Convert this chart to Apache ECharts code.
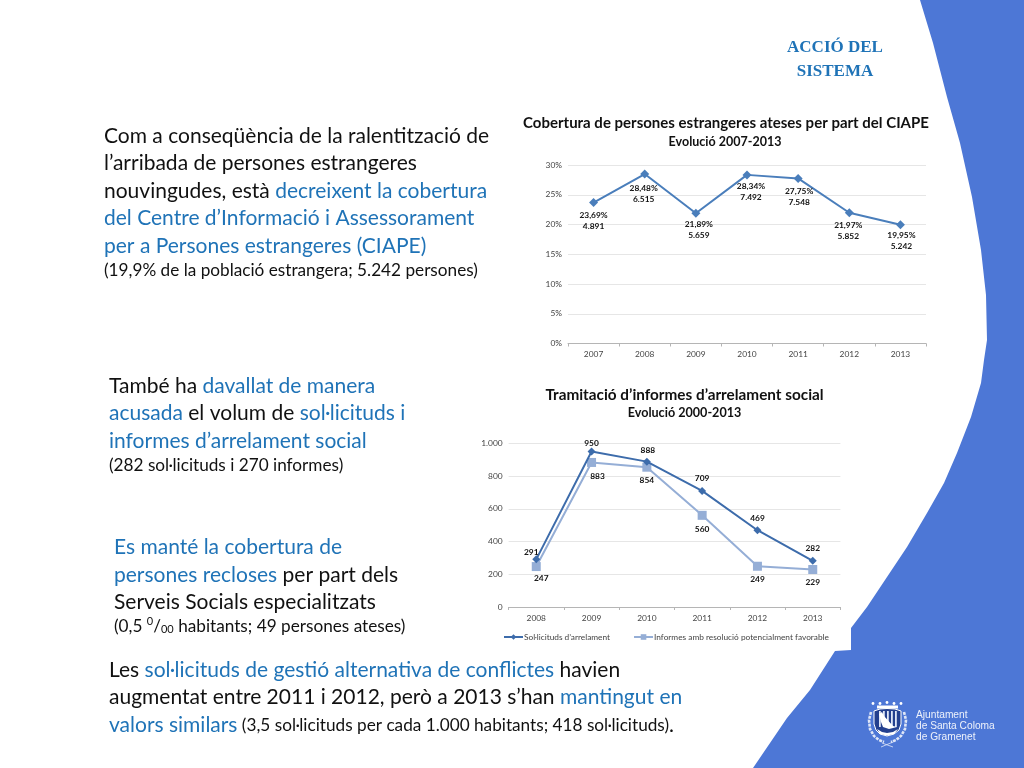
<!DOCTYPE html>
<html><head><meta charset="utf-8">
<style>html,body{margin:0;padding:0;background:#fff}#c{width:1024px;height:768px}</style>
<script src="https://cdn.jsdelivr.net/npm/echarts@6/dist/echarts.min.js"></script>
</head><body><div id="c"></div>
<script>
const years1 = ['2007','2008','2009','2010','2011','2012','2013'];
const coverage = [23.69,28.48,21.89,28.34,27.75,21.97,19.95];
const persons = ['4.891','6.515','5.659','7.492','7.548','5.852','5.242'];
const years2 = ['2008','2009','2010','2011','2012','2013'];
const requests = [291,950,888,709,469,282];
const reports = [247,883,854,560,249,229];
const name1 = "Sol·licituds d’arrelament";
const name2 = "Informes amb resolució potencialment favorable";

const FONT = 'Lato';
const BLUE = '#1f73b7', INK = '#111', RIBBON = '#4d77d6';
const BIG = 21, SMALL = 17.2;

const offs1 = [[0,-2],[-1,-1],[3,-4],[4,-4],[1,-2],[-1,-2],[1,-5]];
const offs2a = [[-5,7],[0,6],[1,3],[0,2],[0,3],[0,2]];
const offs2b = [[5,-3],[6,-1],[0,-2],[0,-1],[0,-2],[0,-2]];

const rich = {
  k:{fontFamily:FONT,fontSize:BIG,fill:INK,color:INK},
  b:{fontFamily:FONT,fontSize:BIG,fill:BLUE,color:BLUE},
  s:{fontFamily:FONT,fontSize:SMALL,fill:INK,color:INK},
  u:{fontFamily:FONT,fontSize:11,fill:INK,color:INK,padding:[0,0,9,0]},
  d:{fontFamily:FONT,fontSize:11,fill:INK,color:INK,padding:[7,0,0,0]}
};
const lines = [
  [104,136,"{k|Com a conseqüència de la ralentització de}"],
  [104,163.5,"{k|l’arribada de persones estrangeres}"],
  [104,191,"{k|nouvingudes, està }{b|decreixent la cobertura}"],
  [104,218.5,"{b|del Centre d’Informació i Assessorament}"],
  [104,246,"{b|per a Persones estrangeres (CIAPE)}"],
  [104,270,"{s|(19,9% de la població estrangera; 5.242 persones)}"],
  [109,386,"{k|També ha }{b|davallat de manera}"],
  [109,413.5,"{b|acusada}{k| el volum de }{b|sol·licituds i}"],
  [109,441,"{b|informes d’arrelament social}"],
  [109,465,"{s|(282 sol·licituds i 270 informes)}"],
  [114,547.5,"{b|Es manté la cobertura de}"],
  [114,575,"{b|persones recloses}{k| per part dels}"],
  [114,602,"{k|Serveis Socials especialitzats}"],
  [114,626,"{s|(0,5 }{u|0}{s|/}{d|00}{s| habitants; 49 persones ateses)}"],
  [109,670,"{k|Les }{b|sol·licituds de gestió alternativa de conflictes}{k| havien}"],
  [109,697,"{k|augmentat entre 2011 i 2012, però a 2013 s’han }{b|mantingut en}"],
  [109,725,"{b|valors similars}{s| (3,5 sol·licituds per cada 1.000 habitants; 418 sol·licituds)}{k|.}"]
];
const ribbon = [[920,0],[933,43],[947,97],[960,143],[972,197],[981,250],[986,295],[987,340],[984,360],[981,383],[971,417],[957,453],[944,483],[927,513],[907,547],[887,577],[867,607],[851,628],[851,650],[835,651],[810,690],[787,718],[753,768],[1024,768],[1024,0]];

function centered(x,y,t,size,extra){
  return {type:'text',z:5,style:Object.assign({x,y,text:t,align:'center',verticalAlign:'middle',fontFamily:FONT,fontWeight:'bold',fontSize:size,fill:'#111'},extra||{})};
}
const crestStripes = [879,883,887,891,895];
const crest = [
  {type:'polygon',z:6,shape:{points:[[874,711],[880,709],[887,708.5],[895,709],[901,711],[901,724],[899,730],[894,734],[887,736],[880,734],[876,730],[874,724]]},style:{fill:'#24408f',stroke:'#fff',lineWidth:1}},
  ...crestStripes.map(x=>({type:'rect',z:7,shape:{x,y:711,width:1.8,height:16},style:{fill:'#dfe6f7'}})),
  {type:'polygon',z:8,shape:{points:[[879,714],[882,712],[884,716],[893,726],[897,727],[889,729],[883,727],[881,722]]},style:{fill:'#fff'}},
  {type:'polygon',z:7,shape:{points:[[877,729],[882,732],[887,733],[893,732],[898,729],[894,734],[887,735.5],[880,734]]},style:{fill:'#fff'}},
  {type:'rect',z:6,shape:{x:877,y:705.5,width:21,height:3},style:{fill:'#fff'}},
  ...[873,880,887,894,901].map(x=>({type:'circle',z:6,shape:{cx:x,cy:x==887?702.5:703.5,r:1.4},style:{fill:'#fff'}})),
  {type:'polyline',z:6,shape:{points:[[871,712],[869,720],[870,729],[874,736],[879,740],[884,742]]},style:{fill:'none',stroke:'#dfe6f7',lineWidth:2.6,lineDash:[3,1]}},
  {type:'polyline',z:6,shape:{points:[[904,712],[906,720],[905,729],[901,736],[896,740],[891,742]]},style:{fill:'none',stroke:'#dfe6f7',lineWidth:2.6,lineDash:[3,1]}},
  {type:'line',z:6,shape:{x1:881,y1:747,x2:893,y2:742},style:{stroke:'#dfe6f7',lineWidth:0.8}},
  {type:'line',z:6,shape:{x1:882,y1:743,x2:893,y2:747},style:{stroke:'#dfe6f7',lineWidth:0.8}}
];
const graphic = [
  {type:'polygon',z:0,shape:{points:ribbon},style:{fill:RIBBON}},
  ...lines.map(l=>({type:'text',z:5,style:{x:l[0],y:l[1],text:l[2],rich,verticalAlign:'middle',align:'left',fontFamily:FONT,fontSize:BIG,fill:INK}})),
  centered(835,48,'ACCIÓ DEL',17,{fontFamily:'Liberation Serif',fill:'#1f73b7'}),
  centered(835,71.5,'SISTEMA',17,{fontFamily:'Liberation Serif',fill:'#1f73b7'}),
  centered(726,123,'Cobertura de persones estrangeres ateses per part del CIAPE',15),
  centered(725,142,'Evolució 2007-2013',12.5),
  centered(684.5,395,'Tramitació d’informes d’arrelament social',15.3),
  centered(684.5,413,'Evolució 2000-2013',12.6),
  ...['Ajuntament','de Santa Coloma','de Gramenet'].map((t,i)=>({type:'text',z:5,style:{x:916,y:715+i*11,text:t,verticalAlign:'middle',fontFamily:'Liberation Sans',fontSize:10.2,fill:'#eef2fb'}})),
  ...crest
];

const axisLabel = {fontFamily:FONT,fontSize:8.4,color:'#444'};
function xAx(data,i){return {type:'category',gridIndex:i,data,boundaryGap:true,
  axisLine:{lineStyle:{color:'#b5b5b5',width:1}},axisTick:{show:true,length:3,alignWithLabel:false,inside:false,lineStyle:{color:'#b5b5b5'}},
  axisLabel:Object.assign({},axisLabel,{interval:0,margin:7}),splitLine:{show:false}};}
function yAx(i,max,interval,fmt){return {type:'value',gridIndex:i,min:0,max,interval,
  axisLine:{show:false},axisTick:{show:false},axisLabel:Object.assign({},axisLabel,{formatter:fmt,margin:6}),
  splitLine:{lineStyle:{color:'#e6e6e6',width:1}}};}
const lab = {show:true,fontFamily:FONT,fontWeight:'bold',fontSize:8.4,color:'#111',lineHeight:11};

const option = {
  animation:false,backgroundColor:'#fff',
  graphic,
  legend:{show:true,left:498,top:628,itemGap:23,itemWidth:19,itemHeight:7,data:[name1,name2],
    textStyle:{fontFamily:FONT,fontSize:8.3,color:'#444',padding:[0,0,0,-4]}},
  grid:[{left:568,top:165,width:358,height:178.5,containLabel:false},
        {left:508.6,top:443.3,width:331.8,height:163.7,containLabel:false}],
  xAxis:[xAx(years1,0),xAx(years2,1)],
  yAxis:[yAx(0,30,5,v=>v+'%'),yAx(1,1000,200,v=>v>=1000?'1.000':String(v))],
  series:[
    {type:'line',xAxisIndex:0,yAxisIndex:0,symbol:'diamond',symbolSize:9,z:3,
     lineStyle:{color:'#4a7ebb',width:2},itemStyle:{color:'#4a7ebb'},
     data:coverage.map((v,i)=>({value:v,label:Object.assign({},lab,{position:'bottom',offset:offs1[i],
       formatter:()=>v.toFixed(2).replace('.',',')+'%\n'+persons[i]})}))},
    {type:'line',name:name1,xAxisIndex:1,yAxisIndex:1,symbol:'diamond',symbolSize:8,z:4,
     lineStyle:{color:'#3d6cab',width:2},itemStyle:{color:'#3d6cab'},
     data:requests.map((v,i)=>({value:v,label:Object.assign({},lab,{position:'top',offset:offs2a[i]})}))},
    {type:'line',name:name2,xAxisIndex:1,yAxisIndex:1,symbol:'rect',symbolSize:9,z:3,
     lineStyle:{color:'#95aed6',width:2},itemStyle:{color:'#95aed6'},
     data:reports.map((v,i)=>({value:v,label:Object.assign({},lab,{position:'bottom',offset:offs2b[i]})}))}
  ]
};
echarts.init(document.getElementById('c')).setOption(option);
</script></body></html>
